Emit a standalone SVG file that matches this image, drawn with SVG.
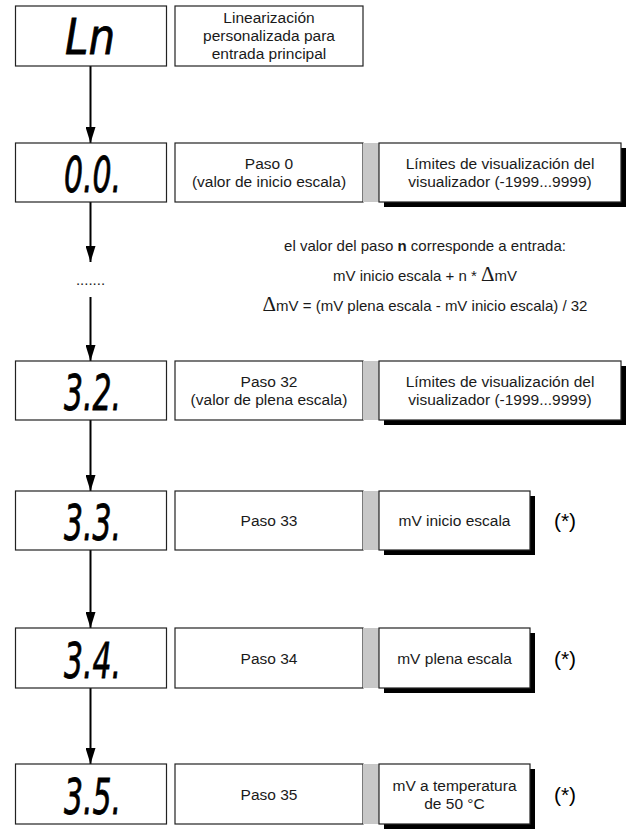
<svg xmlns="http://www.w3.org/2000/svg" width="629" height="832" viewBox="0 0 629 832">
<style>
.box{fill:#fff;stroke:#222;stroke-width:1.2}
.bar{fill:#c8c8c8}
.shadow{fill:#000}
.t{font-family:"Liberation Sans",Arial,sans-serif;font-size:15.5px;fill:#1a1a1a;text-anchor:middle}
.m{font-family:"Liberation Sans",Arial,sans-serif;font-size:15px;fill:#1a1a1a;text-anchor:middle}
.d{font-family:"DejaVu Sans",sans-serif;font-style:oblique;font-weight:normal;font-size:50px;fill:#000;stroke:#000;stroke-width:0.8}
.ast{font-family:"Liberation Sans",Arial,sans-serif;font-size:21px;fill:#000;text-anchor:middle}
.delta{font-family:"Liberation Serif","Times New Roman",serif;font-size:21px}
.conn{stroke:#000;stroke-width:2;fill:none}
</style>
<defs>
<marker id="ah" markerUnits="userSpaceOnUse" markerWidth="16" markerHeight="10" viewBox="0 0 16 10" refX="16" refY="5" orient="auto">
<path d="M0,0 L16,5 L0,10 Z" fill="#000"/>
</marker>
</defs>

<g id="connectors">
<line class="conn" x1="90.5" y1="66" x2="90.5" y2="143" marker-end="url(#ah)"/>
<line class="conn" x1="90.5" y1="202" x2="90.5" y2="262" marker-end="url(#ah)"/>
<line class="conn" x1="90.5" y1="297" x2="90.5" y2="361" marker-end="url(#ah)"/>
<line class="conn" x1="90.5" y1="420" x2="90.5" y2="491" marker-end="url(#ah)"/>
<line class="conn" x1="90.5" y1="550" x2="90.5" y2="628" marker-end="url(#ah)"/>
<line class="conn" x1="90.5" y1="688" x2="90.5" y2="764" marker-end="url(#ah)"/>
</g>

<g id="dots"><text class="m" x="90.5" y="285">.......</text></g>

<g id="formula">
<text class="m" x="425" y="251">el valor del paso <tspan font-weight="bold">n</tspan> corresponde a entrada:</text>
<text class="m" x="425" y="281">mV inicio escala + n * <tspan class="delta">Δ</tspan>mV</text>
<text class="m" x="425" y="311"><tspan class="delta">Δ</tspan>mV = (mV plena escala - mV inicio escala) / 32</text>
</g>

<!-- Row 0 -->
<g id="disp-ln">
<rect class="box" x="15.5" y="6" width="151" height="60"/>
<text class="d" x="65" y="54" font-size="45" textLength="50" lengthAdjust="spacingAndGlyphs">Ln</text>
</g>
<g id="label-ln">
<rect class="box" x="175" y="6" width="188" height="60"/>
<text class="t" x="269" y="23">Linearización</text>
<text class="t" x="269" y="41">personalizada para</text>
<text class="t" x="269" y="59">entrada principal</text>
</g>

<!-- Row 1 -->
<g id="disp-00">
<rect class="box" x="15.5" y="143" width="151" height="59"/>
<text class="d" x="64" y="192" textLength="57" lengthAdjust="spacingAndGlyphs">0.0.</text>
</g>
<g id="paso0">
<rect class="box" x="175" y="143" width="188" height="59"/>
<text class="t" x="269" y="169">Paso 0</text>
<text class="t" x="269" y="187">(valor de inicio escala)</text>
</g>
<g id="lim0">
<rect class="bar" x="363" y="143" width="16" height="59"/>
<rect class="shadow" x="384" y="148" width="242" height="59"/>
<rect class="box" x="379" y="143" width="242" height="59"/>
<text class="t" x="500" y="169">Límites de visualización del</text>
<text class="t" x="500" y="187">visualizador (-1999...9999)</text>
</g>

<!-- Row 2 -->
<g id="disp-32">
<rect class="box" x="15.5" y="361" width="151" height="59"/>
<text class="d" x="64" y="410" textLength="57" lengthAdjust="spacingAndGlyphs">3.2.</text>
</g>
<g id="paso32">
<rect class="box" x="175" y="361" width="188" height="59"/>
<text class="t" x="269" y="387">Paso 32</text>
<text class="t" x="269" y="405">(valor de plena escala)</text>
</g>
<g id="lim32">
<rect class="bar" x="363" y="361" width="16" height="59"/>
<rect class="shadow" x="384" y="366" width="242" height="59"/>
<rect class="box" x="379" y="361" width="242" height="59"/>
<text class="t" x="500" y="387">Límites de visualización del</text>
<text class="t" x="500" y="405">visualizador (-1999...9999)</text>
</g>

<!-- Row 3 -->
<g id="disp-33">
<rect class="box" x="15.5" y="491" width="151" height="59"/>
<text class="d" x="64" y="540" textLength="57" lengthAdjust="spacingAndGlyphs">3.3.</text>
</g>
<g id="paso33">
<rect class="box" x="175" y="491" width="188" height="59"/>
<text class="t" x="269" y="526">Paso 33</text>
</g>
<g id="mvinicio">
<rect class="bar" x="363" y="491" width="16" height="59"/>
<rect class="shadow" x="384" y="496" width="151" height="59"/>
<rect class="box" x="379" y="491" width="151" height="59"/>
<text class="t" x="454.5" y="526">mV inicio escala</text>
<text class="ast" x="565" y="528">(*)</text>
</g>

<!-- Row 4 -->
<g id="disp-34">
<rect class="box" x="15.5" y="628" width="151" height="60"/>
<text class="d" x="64" y="678" textLength="57" lengthAdjust="spacingAndGlyphs">3.4.</text>
</g>
<g id="paso34">
<rect class="box" x="175" y="628" width="188" height="60"/>
<text class="t" x="269" y="663.5">Paso 34</text>
</g>
<g id="mvplena">
<rect class="bar" x="363" y="628" width="16" height="60"/>
<rect class="shadow" x="384" y="633" width="151" height="60"/>
<rect class="box" x="379" y="628" width="151" height="60"/>
<text class="t" x="454.5" y="663.5">mV plena escala</text>
<text class="ast" x="565" y="665.5">(*)</text>
</g>

<!-- Row 5 -->
<g id="disp-35">
<rect class="box" x="15.5" y="764" width="151" height="60"/>
<text class="d" x="64" y="814" textLength="57" lengthAdjust="spacingAndGlyphs">3.5.</text>
</g>
<g id="paso35">
<rect class="box" x="175" y="764" width="188" height="60"/>
<text class="t" x="269" y="799.5">Paso 35</text>
</g>
<g id="mv50">
<rect class="bar" x="363" y="764" width="16" height="60"/>
<rect class="shadow" x="384" y="769" width="151" height="60"/>
<rect class="box" x="379" y="764" width="151" height="60"/>
<text class="t" x="454.5" y="790.5">mV a temperatura</text>
<text class="t" x="454.5" y="808.5">de 50 °C</text>
<text class="ast" x="565" y="801.5">(*)</text>
</g>
</svg>
